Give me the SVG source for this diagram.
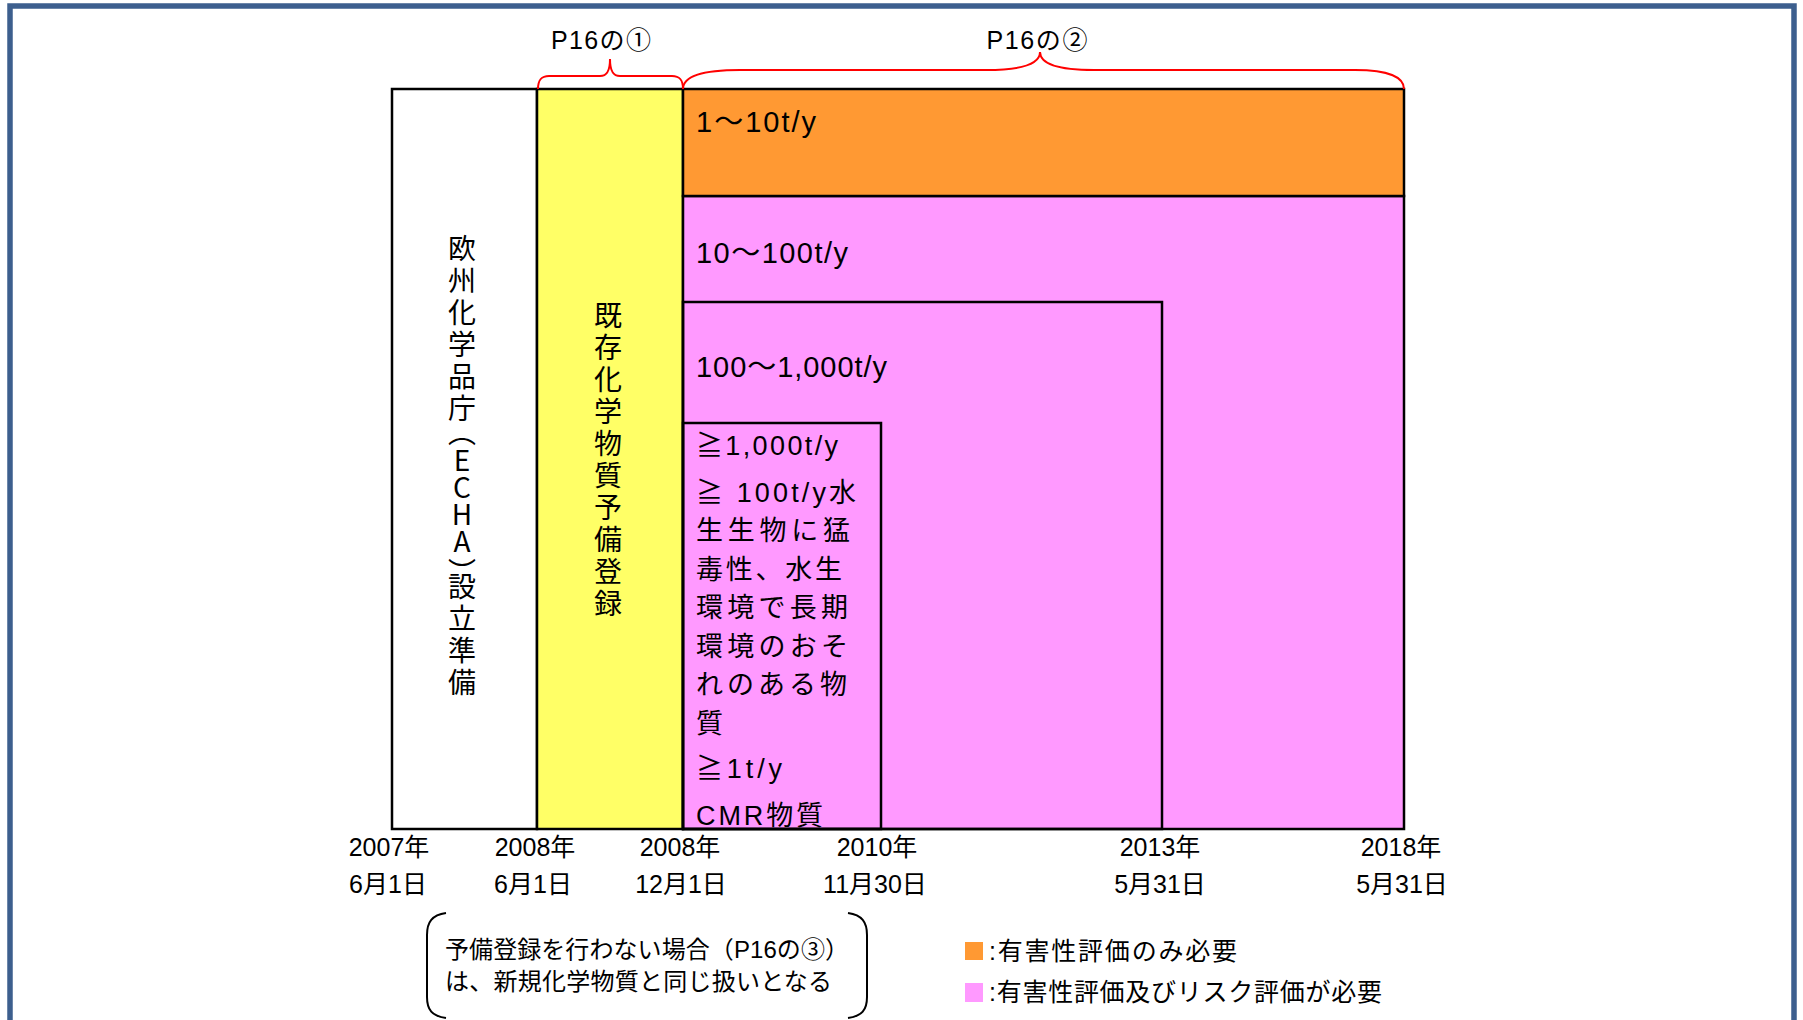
<svg xmlns="http://www.w3.org/2000/svg" width="1803" height="1020" viewBox="0 0 1803 1020">
<defs>
<style>
.t{font-family:"Liberation Sans","Noto Sans CJK JP",sans-serif;fill:#000;}
.box{stroke:#000;stroke-width:2.5;}
.brace{fill:none;stroke:#ff0000;stroke-width:2;}
.v{font-family:"Noto Sans CJK JP",sans-serif;font-size:28px;writing-mode:vertical-rl;text-orientation:upright;fill:#000;}
.d{font-size:25px;text-anchor:middle;}
.in{font-size:27px;}
.big{font-size:29px;}
</style>
</defs>
<rect width="1803" height="1020" fill="#ffffff"/>
<path id="frame" d="M10,1030 V6 H1794 V1030" fill="none" stroke="#3d5f8e" stroke-width="5.5"/>

<g id="echa">
<rect class="box" x="392" y="89" width="145" height="740" fill="#ffffff"/>
<text class="v" x="462" y="234"><tspan letter-spacing="4">欧州化学品</tspan><tspan letter-spacing="-4">庁</tspan><tspan letter-spacing="0">（</tspan><tspan letter-spacing="-1">ECH</tspan><tspan letter-spacing="3">A</tspan><tspan letter-spacing="-14">）</tspan><tspan letter-spacing="4">設立準備</tspan></text>
</g>

<g id="pre-registration">
<rect class="box" x="537" y="89" width="146" height="740" fill="#ffff66"/>
<text class="v" x="608" y="301" letter-spacing="4">既存化学物質予備登録</text>
</g>

<g id="tier-10-100">
<rect class="box" x="683" y="196" width="721" height="633" fill="#ff99ff"/>
<text class="t big" x="696" y="263" textLength="152" lengthAdjust="spacing">10〜100t/y</text>
</g>

<g id="tier-1-10">
<rect class="box" x="683" y="89" width="721" height="107" fill="#ff9933"/>
<text class="t big" x="696" y="132" textLength="120" lengthAdjust="spacing">1〜10t/y</text>
</g>

<g id="tier-100-1000">
<rect class="box" x="683" y="302" width="479" height="527" fill="none"/>
<text class="t big" x="696" y="377" textLength="191" lengthAdjust="spacing">100〜1,000t/y</text>
</g>

<g id="tier-1000">
<rect class="box" x="683" y="423" width="198" height="406" fill="none"/>
<text class="t in" x="696" y="455" textLength="142" lengthAdjust="spacing">≧1,000t/y</text>
<text class="t in" x="696" y="502" textLength="160" lengthAdjust="spacing">≧ 100t/y水</text>
<text class="t in" x="696" y="540" textLength="154" lengthAdjust="spacing">生生物に猛</text>
<text class="t in" x="696" y="579" textLength="146" lengthAdjust="spacing">毒性、水生</text>
<text class="t in" x="696" y="617" textLength="152" lengthAdjust="spacing">環境で長期</text>
<text class="t in" x="696" y="656" textLength="152" lengthAdjust="spacing">環境のおそ</text>
<text class="t in" x="696" y="694" textLength="151" lengthAdjust="spacing">れのある物</text>
<text class="t in" x="696" y="733">質</text>
<text class="t in" x="696" y="778" textLength="86" lengthAdjust="spacing">≧1t/y</text>
<text class="t in" x="696" y="825" textLength="127" lengthAdjust="spacing">CMR物質</text>
</g>

<g id="connectors">
<path class="brace" d="M538,89 C538,80 541,76 549,76 L600,76 C607,76 610,71 610,59 C610,71 613,76 620,76 L672,76 C680,76 683,80 683,89"/>
<path class="brace" d="M683,89 C683,77 700,70 740,70 L986,70 C1022,70 1040,64 1040,52 C1040,64 1058,70 1094,70 L1355,70 C1390,70 1404,78 1404,89"/>
</g>

<g id="brace-labels">
<text class="t" x="601" y="49" font-size="25" text-anchor="middle" textLength="100" lengthAdjust="spacing">P16の①</text>
<text class="t" x="1037" y="49" font-size="25" text-anchor="middle" textLength="101" lengthAdjust="spacing">P16の②</text>
</g>

<g id="dates">
<text class="t d" x="389" y="856">2007年</text>
<text class="t d" x="535" y="856">2008年</text>
<text class="t d" x="680" y="856">2008年</text>
<text class="t d" x="877" y="856">2010年</text>
<text class="t d" x="1160" y="856">2013年</text>
<text class="t d" x="1401" y="856">2018年</text>
<text class="t d" x="388" y="893">6月1日</text>
<text class="t d" x="533" y="893">6月1日</text>
<text class="t d" x="681" y="893">12月1日</text>
<text class="t d" x="875" y="893">11月30日</text>
<text class="t d" x="1160" y="893">5月31日</text>
<text class="t d" x="1402" y="893">5月31日</text>
</g>

<g id="note">
<path d="M446,913 C432,915 427,922 427,935 L427,997 C427,1010 432,1016 446,1018" fill="none" stroke="#000" stroke-width="2"/>
<path d="M848,913 C862,915 867,922 867,935 L867,997 C867,1010 862,1016 848,1018" fill="none" stroke="#000" stroke-width="2"/>
<text class="t" x="445" y="958" font-size="24" textLength="404" lengthAdjust="spacing">予備登録を行わない場合（P16の③）</text>
<text class="t" x="445" y="990" font-size="24" textLength="387" lengthAdjust="spacing">は、新規化学物質と同じ扱いとなる</text>
</g>

<g id="legend">
<rect x="965" y="942" width="18" height="18" fill="#ff9933"/>
<text class="t" x="989" y="960" font-size="25" textLength="248" lengthAdjust="spacing">:有害性評価のみ必要</text>
<rect x="965" y="983" width="18" height="19" fill="#ff99ff"/>
<text class="t" x="989" y="1001" font-size="25" textLength="393" lengthAdjust="spacing">:有害性評価及びリスク評価が必要</text>
</g>
</svg>
